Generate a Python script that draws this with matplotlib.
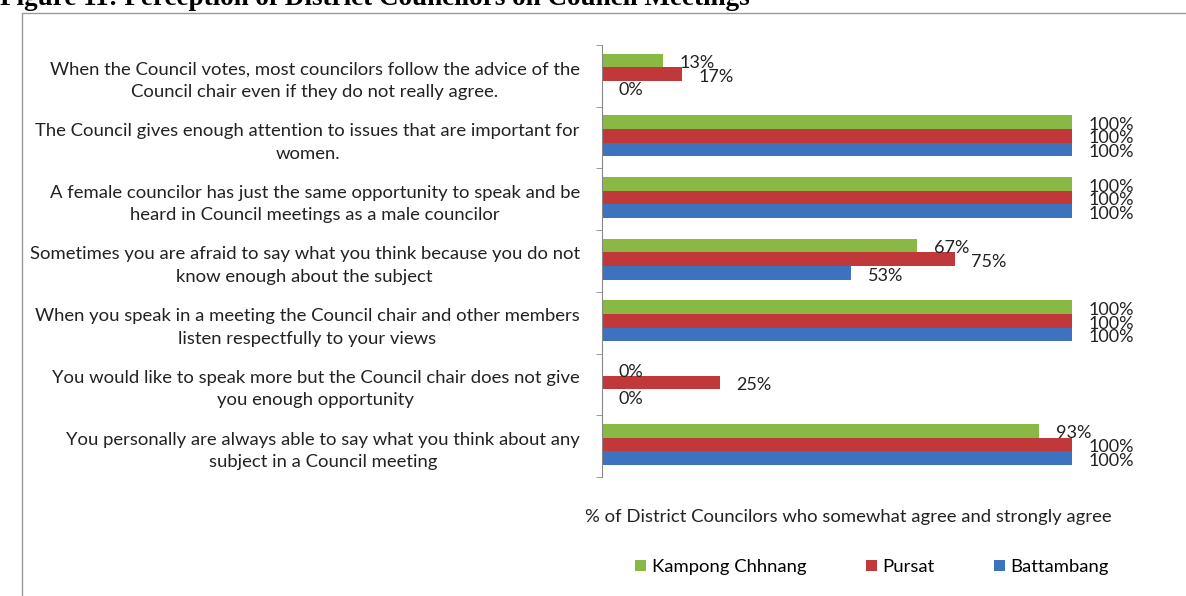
import numpy as np
import matplotlib
matplotlib.use("Agg")
import matplotlib.pyplot as plt
from matplotlib.patches import Rectangle

plt.rcParams['font.family'] = ['Lato', 'DejaVu Sans']

statements = [
    "When the Council votes, most councilors follow the advice of the\nCouncil chair even if they do not really agree.",
    "The Council gives enough attention to issues that are important for\nwomen.",
    "A female councilor has just the same opportunity to speak and be\nheard in Council meetings as a male councilor",
    "Sometimes you are afraid to say what you think because you do not\nknow enough about the subject",
    "When you speak in a meeting the Council chair and other members\nlisten respectfully to your views",
    "You would like to speak more but the Council chair does not give\nyou enough opportunity",
    "You personally are always able to say what you think about any\nsubject in a Council meeting",
]
kampong_chhnang = [13, 100, 100, 67, 100, 0, 93]
pursat = [17, 100, 100, 75, 100, 25, 100]
battambang = [0, 100, 100, 53, 100, 0, 100]

series = [("Kampong Chhnang", kampong_chhnang, "#8AB845"),
          ("Pursat", pursat, "#C0383A"),
          ("Battambang", battambang, "#3C72BE")]

W, H = 1186, 596
FS = 13.3
fig = plt.figure(figsize=(W / 100, H / 100), dpi=100)

# frame around the chart area
fig.patches.append(Rectangle((22 / W, -0.01), 1.0, 1 - 13 / H + 0.01,
                             transform=fig.transFigure, fill=False,
                             edgecolor="#999999", lw=1))
fig.text(0, 1 - 5 / H, "Figure 11: Perception of District Councilors on Council Meetings",
         family="Liberation Serif", weight="bold", fontsize=19.5, va="baseline", ha="left")

ax = fig.add_axes([602 / W, 1 - 477 / H, 470 / W, 432 / H])

y = np.arange(len(statements))
bh = 0.22
for k, (name, vals, col) in enumerate(series):
    pos = y + (k - 1) * bh - 0.03
    ax.barh(pos, vals, height=bh, color=col, label=name, edgecolor="none")
    for p, v in zip(pos, vals):
        ax.annotate(f"{v}%", (v, p), xytext=(12, -2), textcoords="offset points",
                    ha="left", va="center", fontsize=13, color="#222222",
                    annotation_clip=False)

ax.set_xlim(0, 100)
ax.set_ylim(len(statements) - 0.5, -0.5)
ax.set_yticks(y)
ax.set_yticklabels(statements, fontsize=FS, multialignment="center",
                   linespacing=1.5, color="#222222")
ax.set_yticks(np.arange(len(statements) + 1) - 0.5, minor=True)
ax.tick_params(axis="y", which="major", length=0, pad=16)
ax.tick_params(axis="y", which="minor", length=4, direction="out", color="#888888")
ax.set_xticks([])
for s in ["top", "right", "bottom"]:
    ax.spines[s].set_visible(False)
ax.spines["left"].set_color("#888888")

fig.text(848 / W, 1 - 517 / H,
         "% of District Councilors who somewhat agree and strongly agree",
         ha="center", va="center", fontsize=FS, color="#222222")

fig.legend(loc="center", bbox_to_anchor=(872 / W, 1 - 567 / H), ncol=3,
           frameon=False, fontsize=FS, handlelength=0.6, handleheight=0.6,
           handletextpad=0.3, columnspacing=3.2)

fig.savefig("out.png", dpi=100)
